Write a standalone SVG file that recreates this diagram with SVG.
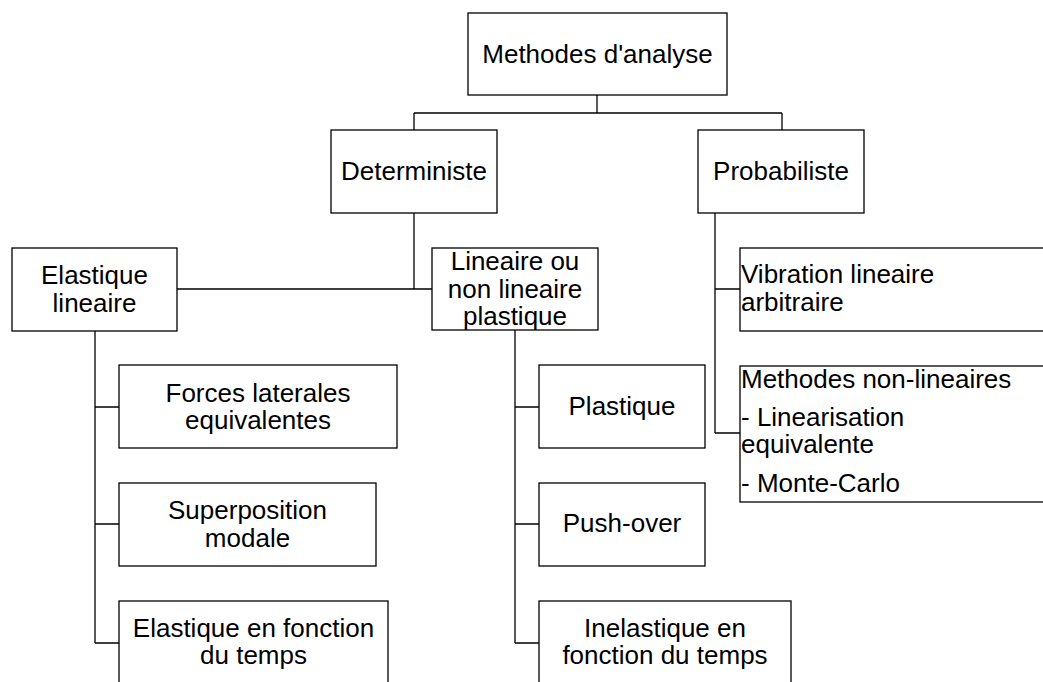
<svg xmlns="http://www.w3.org/2000/svg" width="1043" height="682" viewBox="0 0 1043 682">
<style>
.box{fill:#fff;stroke:#000;stroke-width:1.3}
.c{fill:none;stroke:#000;stroke-width:1.3}
text{font-family:"Liberation Sans",Arial,sans-serif;font-size:26px;fill:#000}
.m{text-anchor:middle}
</style>
<rect width="1043" height="682" fill="#fff"/>
<g id="connectors">
<path class="c" d="M597,95V113M414,113H782M414,113V130M782,113V130"/>
<path class="c" d="M414,213V289M177,289H432"/>
<path class="c" d="M782,213"/>
<path class="c" d="M715,213V433M715,289H740M715,433H740"/>
<path class="c" d="M95,331V643M95,407H119M95,524H119M95,643H119"/>
<path class="c" d="M515,330V643M515,407H539M515,524H539M515,643H539"/>
</g>
<g id="n-root"><rect class="box" x="468" y="13" width="259" height="82"/><text class="m" x="597.5" y="63">Methodes d'analyse</text></g>
<g id="n-det"><rect class="box" x="331" y="130" width="166" height="83"/><text class="m" x="414" y="180">Deterministe</text></g>
<g id="n-prob"><rect class="box" x="698" y="130" width="166" height="83"/><text class="m" x="781" y="180">Probabiliste</text></g>
<g id="n-elin"><rect class="box" x="12" y="248" width="165" height="83"/><text class="m" x="94.5" y="284">Elastique</text><text class="m" x="94.5" y="312">lineaire</text></g>
<g id="n-lin"><rect class="box" x="432" y="248" width="166" height="82"/><text class="m" x="515" y="270">Lineaire ou</text><text class="m" x="515" y="297.5">non lineaire</text><text class="m" x="515" y="325">plastique</text></g>
<g id="n-vib"><rect class="box" x="740" y="248" width="320" height="83"/><text x="741" y="283">Vibration lineaire</text><text x="741" y="311">arbitraire</text></g>
<g id="n-mnl"><rect class="box" x="740" y="366" width="320" height="136"/><text x="741" y="388">Methodes non-lineaires</text><text x="741" y="426">- Linearisation</text><text x="741" y="453">equivalente</text><text x="741" y="492">- Monte-Carlo</text></g>
<g id="n-forces"><rect class="box" x="119" y="365" width="278" height="83"/><text class="m" x="258" y="402">Forces laterales</text><text class="m" x="258" y="429">equivalentes</text></g>
<g id="n-super"><rect class="box" x="119" y="483" width="257" height="83"/><text class="m" x="247.5" y="519">Superposition</text><text class="m" x="247.5" y="547">modale</text></g>
<g id="n-elt"><rect class="box" x="119" y="601" width="269" height="100"/><text class="m" x="253.5" y="637">Elastique en fonction</text><text class="m" x="253.5" y="664">du temps</text></g>
<g id="n-plast"><rect class="box" x="539" y="365" width="166" height="83"/><text class="m" x="622" y="415">Plastique</text></g>
<g id="n-push"><rect class="box" x="539" y="483" width="166" height="83"/><text class="m" x="622" y="532">Push-over</text></g>
<g id="n-inel"><rect class="box" x="539" y="601" width="252" height="100"/><text class="m" x="665" y="637">Inelastique en</text><text class="m" x="665" y="664">fonction du temps</text></g>
</svg>
